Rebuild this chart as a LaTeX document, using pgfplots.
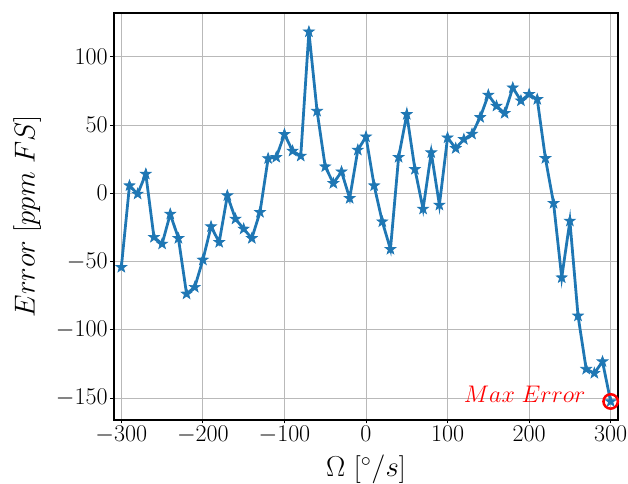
\documentclass[border=0pt]{standalone}
\usepackage{pgfplots}
\pgfplotsset{compat=1.18}
\definecolor{c0}{HTML}{1F77B4}
\pgfdeclareplotmark{fstar}{%
  \pgfpathmoveto{\pgfpointpolar{90}{\pgfplotmarksize}}%
  \pgfpathlineto{\pgfpointpolar{126}{0.4\pgfplotmarksize}}%
  \pgfpathlineto{\pgfpointpolar{162}{\pgfplotmarksize}}%
  \pgfpathlineto{\pgfpointpolar{198}{0.4\pgfplotmarksize}}%
  \pgfpathlineto{\pgfpointpolar{234}{\pgfplotmarksize}}%
  \pgfpathlineto{\pgfpointpolar{270}{0.4\pgfplotmarksize}}%
  \pgfpathlineto{\pgfpointpolar{306}{\pgfplotmarksize}}%
  \pgfpathlineto{\pgfpointpolar{342}{0.4\pgfplotmarksize}}%
  \pgfpathlineto{\pgfpointpolar{18}{\pgfplotmarksize}}%
  \pgfpathlineto{\pgfpointpolar{54}{0.4\pgfplotmarksize}}%
  \pgfpathclose
  \pgfusepathqfillstroke
}
\begin{document}
\begin{tikzpicture}
\begin{axis}[
  scale only axis,
  width=363pt, height=293pt,
  xmin=-309, xmax=309, ymin=-166, ymax=132,
  xtick={-300,-200,...,300},
  ytick={-150,-100,...,100},
  xtick pos=bottom, ytick pos=left,
  tick align=outside,
  major tick length=2.6pt,
  tick style={black, line width=0.6pt},
  axis line style={black, line width=1pt},
  grid=major,
  major grid style={gray!55, line width=0.6pt},
  tick label style={font=\fontsize{19}{23}\selectfont, inner sep=1.8pt},
  label style={font=\fontsize{20}{24}\selectfont},
  xlabel={$\Omega$ [$^\circ/s$]},
  ylabel={$Error$ [$ppm\ FS$]},
  xlabel style={yshift=-3pt},
  ylabel style={yshift=5pt},
]
\addplot[c0, line width=2pt, mark=fstar, mark size=4.1pt, mark options={line width=0.5pt, fill=c0}] coordinates {
(-300,-54.2) (-290,5.6) (-280,-0.5) (-270,14.1) (-260,-32.2) (-250,-37.1)
(-240,-15.2) (-230,-33) (-220,-73.7) (-210,-68.8) (-200,-48.8) (-190,-24.4)
(-180,-35.9) (-170,-1.7) (-160,-18.8) (-150,-26.1) (-140,-33) (-130,-13.9)
(-120,25.5) (-110,26.4) (-100,43.2) (-90,31) (-80,27.3) (-70,118.3)
(-60,60.2) (-50,19.5) (-40,7.3) (-30,15.8) (-20,-3.7) (-10,31.7)
(0,41.4) (10,5.6) (20,-20.8) (30,-41) (40,26.4) (50,57.8)
(60,17.6) (70,-11.5) (80,29.8) (90,-8.6) (100,40.7) (110,32.9)
(120,39.5) (130,43.4) (140,55.6) (150,72) (160,63.9) (170,58.6)
(180,77.3) (190,67.8) (200,72.5) (210,68.8) (220,25.6) (230,-7.3)
(240,-61.8) (250,-20.3) (260,-89.8) (270,-128.8) (280,-131.8) (290,-123.3)
(300,-152.5)
};
\addplot[red, only marks, mark=o, mark size=5.2pt, mark options={line width=1.8pt}] coordinates {(300,-152.5)};
\node[red, anchor=base east, inner sep=0pt, font=\fontsize{16}{19}\selectfont] at (axis cs:300,-152.5) [xshift=-18pt, yshift=-1pt] {$Max\ Error$};
\end{axis}
\path (current axis.south west) ++(-82.1pt,-46.1pt) coordinate (A);
\path (current axis.north east) ++(7.2pt,9.4pt) coordinate (B);
\pgfresetboundingbox
\path[use as bounding box] (A) rectangle (B);
\end{tikzpicture}
\end{document}
